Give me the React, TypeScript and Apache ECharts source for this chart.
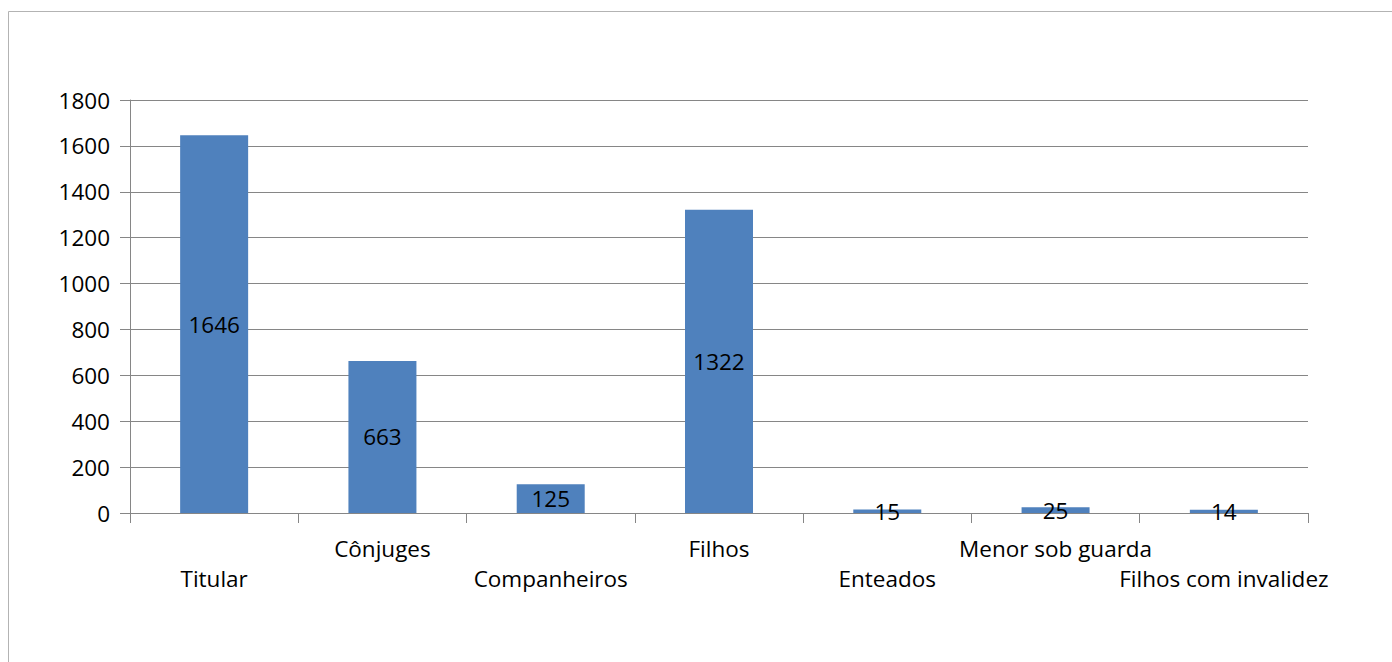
import React, { useEffect, useRef } from "react";
import * as echarts from "echarts";

const categories = [
  "Titular",
  "Cônjuges",
  "Companheiros",
  "Filhos",
  "Enteados",
  "Menor sob guarda",
  "Filhos com invalidez",
];
const values = [1646, 663, 125, 1322, 15, 25, 14];
const yTicks = { min: 0, max: 1800, interval: 200 };

const FONT = "'Open Sans', 'Liberation Sans', sans-serif";
const FONT_SIZE = 22.5;

export default function App() {
  const ref = useRef<HTMLDivElement>(null);

  useEffect(() => {
    if (!ref.current) return;
    const chart = echarts.init(ref.current, null, { renderer: "svg" });
    chart.setOption({
      animation: false,
      backgroundColor: "#ffffff",
      grid: { left: 130, right: 84, top: 100, bottom: 149 },
      graphic: [
        {
          type: "rect",
          shape: { x: 8.5, y: 11.5, width: 1400, height: 700 },
          style: { fill: "none", stroke: "#b3b3b3", lineWidth: 1 },
          silent: true,
        },
      ],
      xAxis: {
        type: "category",
        data: categories,
        boundaryGap: true,
        axisLine: { show: true, lineStyle: { color: "#868686", width: 1 } },
        axisTick: {
          show: true,
          alignWithLabel: false,
          length: 10,
          lineStyle: { color: "#868686" },
        },
        axisLabel: {
          interval: 0,
          margin: 20,
          color: "#000000",
          fontFamily: FONT,
          fontSize: FONT_SIZE,
          lineHeight: 30,
          formatter: (value: string, index: number) =>
            index % 2 === 0 ? "\n" + value : value,
        },
        splitLine: { show: false },
      },
      yAxis: {
        type: "value",
        min: yTicks.min,
        max: yTicks.max,
        interval: yTicks.interval,
        axisLine: { show: true, lineStyle: { color: "#868686", width: 1 } },
        axisTick: { show: true, length: 10, lineStyle: { color: "#868686" } },
        axisLabel: {
          margin: 20,
          color: "#000000",
          fontFamily: FONT,
          fontSize: FONT_SIZE,
          formatter: (v: number) => String(v),
        },
        splitLine: { show: true, lineStyle: { color: "#868686", width: 1 } },
      },
      series: [
        {
          type: "bar",
          data: values,
          barWidth: 68,
          itemStyle: { color: "#4f81bd" },
          label: {
            show: true,
            position: "inside",
            color: "#000000",
            fontFamily: FONT,
            fontSize: FONT_SIZE,
          },
        },
      ],
    });
    return () => chart.dispose();
  }, []);

  return (
    <div
      ref={ref}
      style={{ position: "fixed", left: 0, top: 0, width: 1392, height: 662 }}
    />
  );
}
